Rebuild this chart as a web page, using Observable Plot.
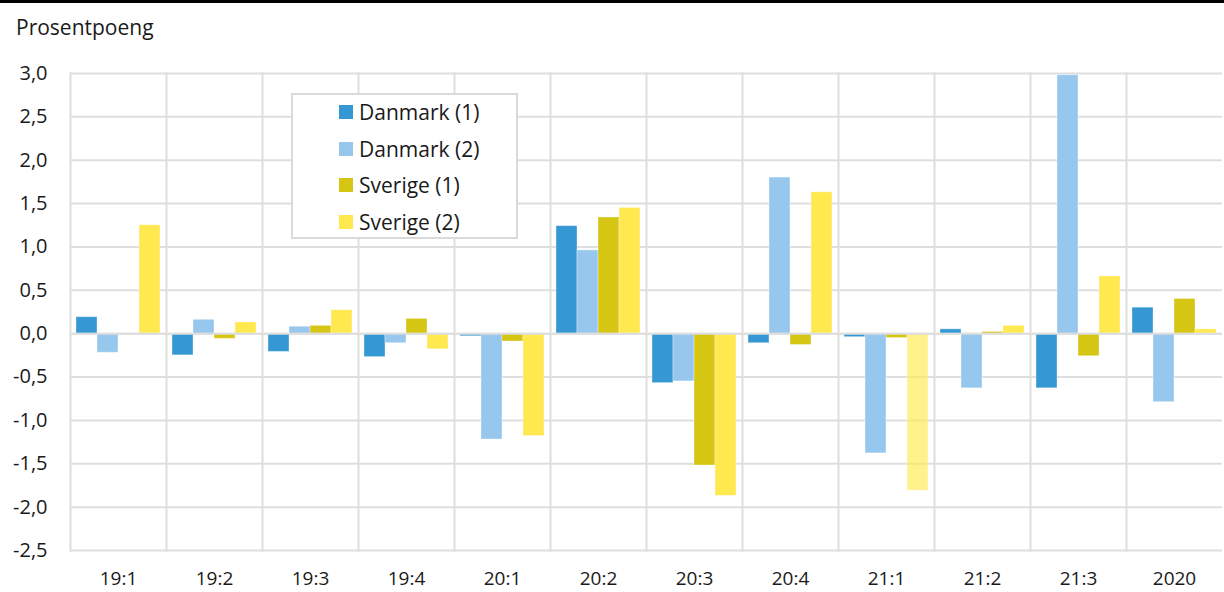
<!DOCTYPE html>
<html>
<head>
<meta charset="utf-8">
<script src="https://cdn.jsdelivr.net/npm/d3@7"></script>
<script src="https://cdn.jsdelivr.net/npm/@observablehq/plot@0.6"></script>
<style>
  html, body { margin: 0; padding: 0; background: #fff; }
  #wrap { position: relative; width: 1224px; height: 592px; overflow: hidden; font-family: "Open Sans", sans-serif; color: #1a1a1a; }
  #topbar { position: absolute; left: 0; top: 0; width: 1224px; height: 3px; background: #000; }
  #title { position: absolute; left: 16px; top: 13px; font-size: 21px; line-height: 28px; }
  #chart { position: absolute; left: 0; top: 0; }
  #legend { position: absolute; left: 291px; top: 93px; width: 223px; height: 142px; border: 2px solid #dadada; background: #fff; box-sizing: content-box; }
  .item { position: absolute; left: 46px; height: 28px; display: flex; align-items: center; font-size: 21px; white-space: nowrap; }
  .sw { width: 14px; height: 14px; margin-right: 6px; }
</style>
</head>
<body>
<div id="wrap">
  <div id="chart"></div>
  <div id="topbar"></div>
  <div id="title">Prosentpoeng</div>
  <div id="legend"></div>
</div>
<script>
const periods = ["19:1", "19:2", "19:3", "19:4", "20:1", "20:2", "20:3", "20:4", "21:1", "21:2", "21:3", "2020"];
const seriesNames = ["Danmark (1)", "Danmark (2)", "Sverige (1)", "Sverige (2)"];
const danmark1 = [0.19, -0.25, -0.21, -0.27, -0.03, 1.24, -0.57, -0.11, -0.04, 0.05, -0.63, 0.30];
const danmark2 = [-0.22, 0.16, 0.08, -0.11, -1.22, 0.96, -0.55, 1.80, -1.38, -0.63, 2.98, -0.79];
const sverige1 = [0.00, -0.06, 0.09, 0.17, -0.09, 1.34, -1.52, -0.13, -0.05, 0.02, -0.26, 0.40];
const sverige2 = [1.25, 0.13, 0.27, -0.18, -1.18, 1.45, -1.87, 1.63, -1.81, 0.09, 0.66, 0.05];
const colors = ["#3597d3", "#97c7ec", "#d6c614", "#ffe94f"];
const yTicks = [-2.5, -2.0, -1.5, -1.0, -0.5, 0, 0.5, 1.0, 1.5, 2.0, 2.5, 3.0];

const valueLists = [danmark1, danmark2, sverige1, sverige2];
const data = periods.flatMap((p, i) => seriesNames.map((s, j) => ({period: p, series: s, value: valueLists[j][i]})));

const fmt = d => d.toFixed(1).replace(".", ",");
const gridColor = "#dedede";

const chart = Plot.plot({
  width: 1224,
  height: 592,
  marginTop: 73,
  marginBottom: 42,
  marginLeft: 67,
  marginRight: 0,
  style: {fontFamily: "Open Sans, sans-serif", fontSize: "20px", color: "#1a1a1a", background: "transparent"},
  fx: {domain: periods, paddingInner: 0, paddingOuter: 0, label: null},
  x: {domain: seriesNames, paddingInner: 0, paddingOuter: 0.2, axis: null},
  y: {domain: [-2.5, 3], label: null},
  color: {domain: seriesNames, range: colors},
  marks: [
    Plot.gridY(yTicks, {stroke: gridColor, strokeOpacity: 1, strokeWidth: 2}),
    Plot.frame({anchor: "left", stroke: gridColor, strokeOpacity: 1, strokeWidth: 2}),
    Plot.barY(data, {
      fx: "period", x: "series", y: "value", fill: "series",
      fillOpacity: d => (d.period === "21:1" && d.series === "Sverige (2)") ? 0.65 : 1,
      stroke: "#ffffff", strokeOpacity: 0.35, strokeWidth: 1
    }),
    Plot.ruleY([0], {stroke: gridColor, strokeWidth: 2}),
    Plot.axisY(yTicks, {tickSize: 0, tickPadding: 23, tickFormat: fmt, label: null, fontSize: 20}),
    Plot.axisFx({anchor: "bottom", tickSize: 0, tickPadding: 21, label: null, fontSize: 19})
  ]
});
document.getElementById("chart").appendChild(chart);

const legend = document.getElementById("legend");
seriesNames.forEach((s, j) => {
  const item = document.createElement("div");
  item.className = "item";
  item.style.top = (3 + j * 36.7) + "px";
  const sw = document.createElement("div");
  sw.className = "sw";
  sw.style.background = colors[j];
  const label = document.createElement("span");
  label.textContent = s;
  item.appendChild(sw);
  item.appendChild(label);
  legend.appendChild(item);
});
</script>
</body>
</html>
